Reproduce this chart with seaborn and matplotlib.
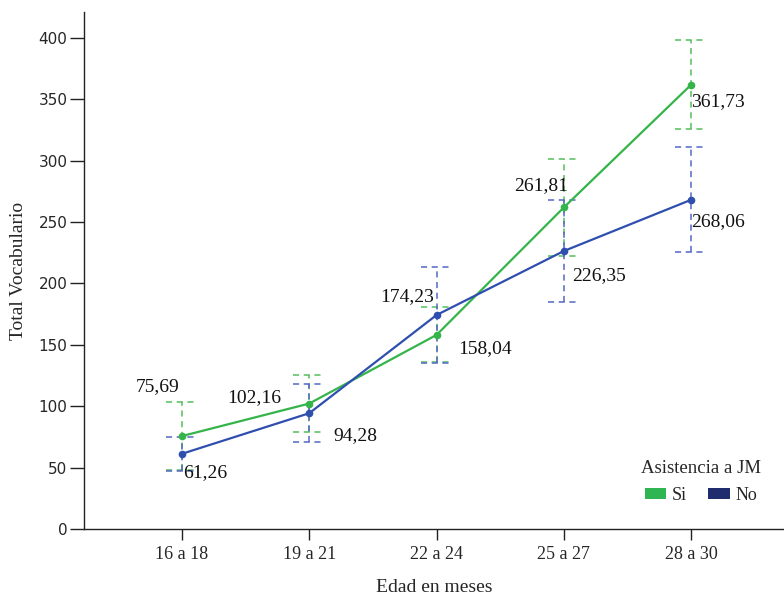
import numpy as np
import pandas as pd
import matplotlib
matplotlib.use("Agg")
import matplotlib.pyplot as plt
from matplotlib.patches import Patch
import seaborn as sns

# Data
edades = ["16 a 18", "19 a 21", "22 a 24", "25 a 27", "28 a 30"]
si_media = [75.69, 102.16, 158.04, 261.81, 361.73]
no_media = [61.26, 94.28, 174.23, 226.35, 268.06]
si_sup = [103.5, 125.5, 181.0, 301.5, 398.0]
si_inf = [48.0, 79.0, 136.0, 222.0, 326.0]
no_sup = [75.0, 118.0, 213.5, 268.0, 311.0]
no_inf = [47.0, 71.0, 135.0, 185.0, 225.6]
grupos = ["Si", "No"]
yticks = [0, 50, 100, 150, 200, 250, 300, 350, 400]

# Styles
linea = {"Si": "#35b44a", "No": "#2f4fae"}
barra = {"Si": "#55bd5c", "No": "#5468c4"}
leyenda = {"Si": "#2fb552", "No": "#1f2d6e"}
# label offsets in pixels (dx, dy) for each point
off_si = [(-24, 49), (-55, 6), (48, -14), (-23, 22), (27, -17)]
off_no = [(23, -19), (46, -22), (-29, 18), (35, -25), (27, -22)]

df = pd.DataFrame({
    "edad": edades * 2,
    "vocab": si_media + no_media,
    "asistencia": ["Si"] * len(edades) + ["No"] * len(edades),
})

sns.set_style("ticks")
plt.rcParams["font.family"] = ["Liberation Serif", "DejaVu Serif"]

fig = plt.figure(figsize=(7.84, 5.99), dpi=100)
ax = fig.add_axes([84 / 784, 70 / 599, 700 / 784, 517 / 599])

pos = np.arange(len(edades))
cap = 0.125
for g, sup, inf in [("Si", si_sup, si_inf), ("No", no_sup, no_inf)]:
    ax.vlines(pos, inf, sup, colors=barra[g], linestyles=(0, (4, 3)), linewidth=1.1, zorder=2)
    ax.hlines(sup, pos - cap, pos + cap, colors=barra[g], linestyles=(0, (4, 3)), linewidth=1.1, zorder=2)
    ax.hlines(inf, pos - cap, pos + cap, colors=barra[g], linestyles=(0, (4, 3)), linewidth=1.1, zorder=2)

sns.lineplot(data=df, x="edad", y="vocab", hue="asistencia", hue_order=grupos,
             palette=linea, marker="o", markersize=5.5, markeredgewidth=0,
             linewidth=1.6, sort=False, legend=False, ax=ax, zorder=3)

for vals, offs in [(si_media, off_si), (no_media, off_no)]:
    for i, (v, (dx, dy)) in enumerate(zip(vals, offs)):
        ax.annotate(f"{v:.2f}".replace(".", ","), (i, v), xytext=(dx, dy),
                    textcoords="offset pixels", ha="center", va="center",
                    fontsize=14, color="#111111")

ax.set_xlim(-0.77, 4.73)
ax.set_ylim(0, 421)
ax.set_yticks(yticks)
ax.set_yticklabels([str(t) for t in yticks], fontfamily="DejaVu Sans", fontsize=11)
ax.set_xticks(pos)
ax.set_xticklabels(edades, fontsize=13)
ax.tick_params(axis="y", length=10, width=1, color="#222222", pad=2)
ax.tick_params(axis="x", length=8, width=1, color="#222222", pad=4)
ax.set_xlabel("Edad en meses", fontsize=14, labelpad=12)
ax.set_ylabel("Total Vocabulario", fontsize=14, labelpad=8)
for s in ["top", "right"]:
    ax.spines[s].set_visible(False)
for s in ["left", "bottom"]:
    ax.spines[s].set_color("#222222")
    ax.spines[s].set_linewidth(1)

handles = [Patch(facecolor=leyenda[g], edgecolor="none", label=g) for g in grupos]
fig.legend(handles=handles, title="Asistencia a JM", ncol=2, frameon=False,
           loc="center", bbox_to_anchor=(701 / 784, 1 - 482 / 599),
           fontsize=13, title_fontsize=13.5, handlelength=1.2, handleheight=0.55,
           handletextpad=0.3, columnspacing=1.2)

fig.savefig("out.png", dpi=100)
